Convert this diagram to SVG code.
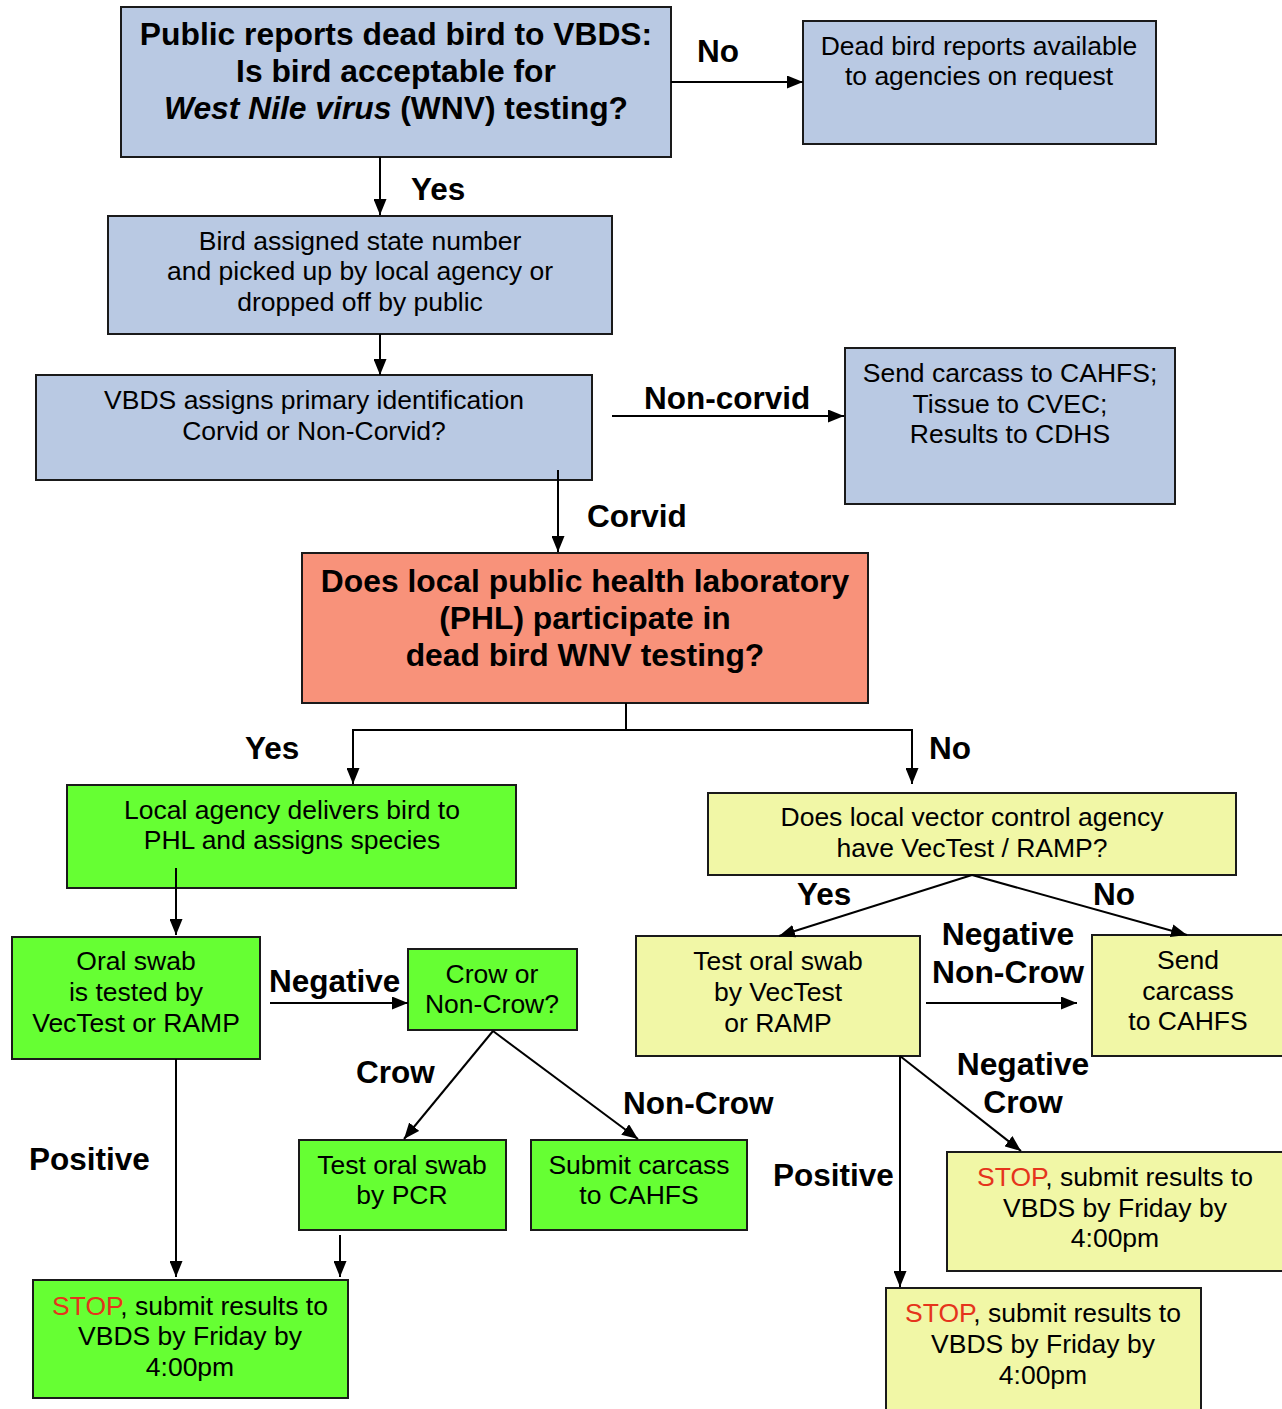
<svg xmlns="http://www.w3.org/2000/svg" width="1282" height="1409" viewBox="0 0 1282 1409">
<defs>
<style>
.box{stroke:#1a1a1a;stroke-width:2}
.blue{fill:#b9c9e3}
.salmon{fill:#f8927a}
.green{fill:#66ff33}
.yellow{fill:#f1f7a6}
.t{font-family:"Liberation Sans",Arial,sans-serif;font-size:26.5px;fill:#000;text-anchor:middle}
.b{font-family:"Liberation Sans",Arial,sans-serif;font-size:31.8px;font-weight:bold;fill:#000;text-anchor:middle}
.lbl{font-family:"Liberation Sans",Arial,sans-serif;font-size:31.5px;font-weight:bold;fill:#000}
.stop{fill:#e5341c}
.c{fill:none;stroke:#000;stroke-width:2}
.ca{fill:none;stroke:#000;stroke-width:2;marker-end:url(#ah)}
</style>
<marker id="ah" viewBox="0 0 16 13" refX="16" refY="6.5" markerWidth="16" markerHeight="13" markerUnits="userSpaceOnUse" orient="auto">
<path d="M0,0 L16,6.5 L0,13 z" fill="#000"/>
</marker>
</defs>
<rect width="1282" height="1409" fill="#fff"/>

<g id="n1">
<rect class="box blue" x="121" y="7" width="550" height="150"/>
<text class="b" x="396" y="45">Public reports dead bird to VBDS:</text>
<text class="b" x="396" y="82">Is bird acceptable for</text>
<text class="b" x="396" y="119"><tspan font-style="italic">West Nile virus</tspan> (WNV) testing?</text>
</g>
<g id="n2">
<rect class="box blue" x="803" y="21" width="353" height="123"/>
<text class="t" x="979" y="55">Dead bird reports available</text>
<text class="t" x="979" y="85">to agencies on request</text>
</g>
<g id="n3">
<rect class="box blue" x="108" y="216" width="504" height="118"/>
<text class="t" x="360" y="250">Bird assigned state number</text>
<text class="t" x="360" y="280">and picked up by local agency or</text>
<text class="t" x="360" y="311">dropped off by public</text>
</g>
<g id="n4">
<rect class="box blue" x="36" y="375" width="556" height="105"/>
<text class="t" x="314" y="409">VBDS assigns primary identification</text>
<text class="t" x="314" y="440">Corvid or Non-Corvid?</text>
</g>
<g id="n5">
<rect class="box blue" x="845" y="348" width="330" height="156"/>
<text class="t" x="1010" y="382">Send carcass to CAHFS;</text>
<text class="t" x="1010" y="413">Tissue to CVEC;</text>
<text class="t" x="1010" y="443">Results to CDHS</text>
</g>
<g id="n6">
<rect class="box salmon" x="302" y="553" width="566" height="150"/>
<text class="b" x="585" y="592">Does local public health laboratory</text>
<text class="b" x="585" y="629">(PHL) participate in</text>
<text class="b" x="585" y="666">dead bird WNV testing?</text>
</g>
<g id="n7">
<rect class="box green" x="67" y="785" width="449" height="103"/>
<text class="t" x="292" y="819">Local agency delivers bird to</text>
<text class="t" x="292" y="849">PHL and assigns species</text>
</g>
<g id="n8">
<rect class="box green" x="12" y="937" width="248" height="122"/>
<text class="t" x="136" y="970">Oral swab</text>
<text class="t" x="136" y="1001">is tested by</text>
<text class="t" x="136" y="1032">VecTest or RAMP</text>
</g>
<g id="n9">
<rect class="box green" x="408" y="949" width="169" height="81"/>
<text class="t" x="492" y="983">Crow or</text>
<text class="t" x="492" y="1013">Non-Crow?</text>
</g>
<g id="n10">
<rect class="box green" x="299" y="1140" width="207" height="90"/>
<text class="t" x="402" y="1174">Test oral swab</text>
<text class="t" x="402" y="1204">by PCR</text>
</g>
<g id="n11">
<rect class="box green" x="531" y="1140" width="216" height="90"/>
<text class="t" x="639" y="1174">Submit carcass</text>
<text class="t" x="639" y="1204">to CAHFS</text>
</g>
<g id="n12">
<rect class="box green" x="33" y="1280" width="315" height="118"/>
<text class="t" x="190" y="1315"><tspan class="stop">STOP</tspan>, submit results to</text>
<text class="t" x="190" y="1345">VBDS by Friday by</text>
<text class="t" x="190" y="1376">4:00pm</text>
</g>
<g id="n13">
<rect class="box yellow" x="708" y="793" width="528" height="82"/>
<text class="t" x="972" y="826">Does local vector control agency</text>
<text class="t" x="972" y="857">have VecTest / RAMP?</text>
</g>
<g id="n14">
<rect class="box yellow" x="636" y="936" width="284" height="120"/>
<text class="t" x="778" y="970">Test oral swab</text>
<text class="t" x="778" y="1001">by VecTest</text>
<text class="t" x="778" y="1032">or RAMP</text>
</g>
<g id="n15">
<rect class="box yellow" x="1092" y="935" width="200" height="121"/>
<text class="t" x="1188" y="969">Send</text>
<text class="t" x="1188" y="1000">carcass</text>
<text class="t" x="1188" y="1030">to CAHFS</text>
</g>
<g id="n16">
<rect class="box yellow" x="947" y="1152" width="345" height="119"/>
<text class="t" x="1115" y="1186"><tspan class="stop">STOP</tspan>, submit results to</text>
<text class="t" x="1115" y="1217">VBDS by Friday by</text>
<text class="t" x="1115" y="1247">4:00pm</text>
</g>
<g id="n17">
<rect class="box yellow" x="886" y="1288" width="315" height="130"/>
<text class="t" x="1043" y="1322"><tspan class="stop">STOP</tspan>, submit results to</text>
<text class="t" x="1043" y="1353">VBDS by Friday by</text>
<text class="t" x="1043" y="1384">4:00pm</text>
</g>

<g id="connectors">
<line class="ca" x1="671" y1="82" x2="803" y2="82"/>
<line class="ca" x1="380" y1="157" x2="380" y2="215"/>
<line class="ca" x1="380" y1="334" x2="380" y2="375"/>
<line class="ca" x1="612" y1="416" x2="844" y2="416"/>
<line class="ca" x1="558" y1="470" x2="558" y2="552"/>
<polyline class="c" points="626,703 626,730 353,730 353,770"/>
<line class="ca" x1="353" y1="760" x2="353" y2="784"/>
<polyline class="c" points="626,730 912,730 912,770"/>
<line class="ca" x1="912" y1="760" x2="912" y2="784"/>
<line class="ca" x1="176" y1="868" x2="176" y2="935"/>
<line class="ca" x1="270" y1="1003" x2="408" y2="1003"/>
<line class="ca" x1="493" y1="1031" x2="404" y2="1139"/>
<line class="ca" x1="493" y1="1031" x2="638" y2="1139"/>
<line class="ca" x1="176" y1="1059" x2="176" y2="1277"/>
<line class="ca" x1="340" y1="1235" x2="340" y2="1277"/>
<line class="ca" x1="972" y1="875" x2="779" y2="936"/>
<line class="ca" x1="972" y1="875" x2="1187" y2="935"/>
<line class="ca" x1="926" y1="1003" x2="1077" y2="1003"/>
<line class="ca" x1="900" y1="1056" x2="1021" y2="1151"/>
<line class="ca" x1="900" y1="1056" x2="900" y2="1287"/>
</g>

<g id="labels">
<text class="lbl" x="697" y="62">No</text>
<text class="lbl" x="411" y="200">Yes</text>
<text class="lbl" x="644" y="409">Non-corvid</text>
<text class="lbl" x="587" y="527">Corvid</text>
<text class="lbl" x="245" y="759">Yes</text>
<text class="lbl" x="929" y="759">No</text>
<text class="lbl" x="269" y="992">Negative</text>
<text class="lbl" x="356" y="1083">Crow</text>
<text class="lbl" x="623" y="1114">Non-Crow</text>
<text class="lbl" x="29" y="1170">Positive</text>
<text class="lbl" x="797" y="905">Yes</text>
<text class="lbl" x="1093" y="905">No</text>
<text class="b" x="1008" y="945">Negative</text>
<text class="b" x="1008" y="983">Non-Crow</text>
<text class="b" x="1023" y="1075">Negative</text>
<text class="b" x="1023" y="1113">Crow</text>
<text class="lbl" x="773" y="1186">Positive</text>
</g>
</svg>
